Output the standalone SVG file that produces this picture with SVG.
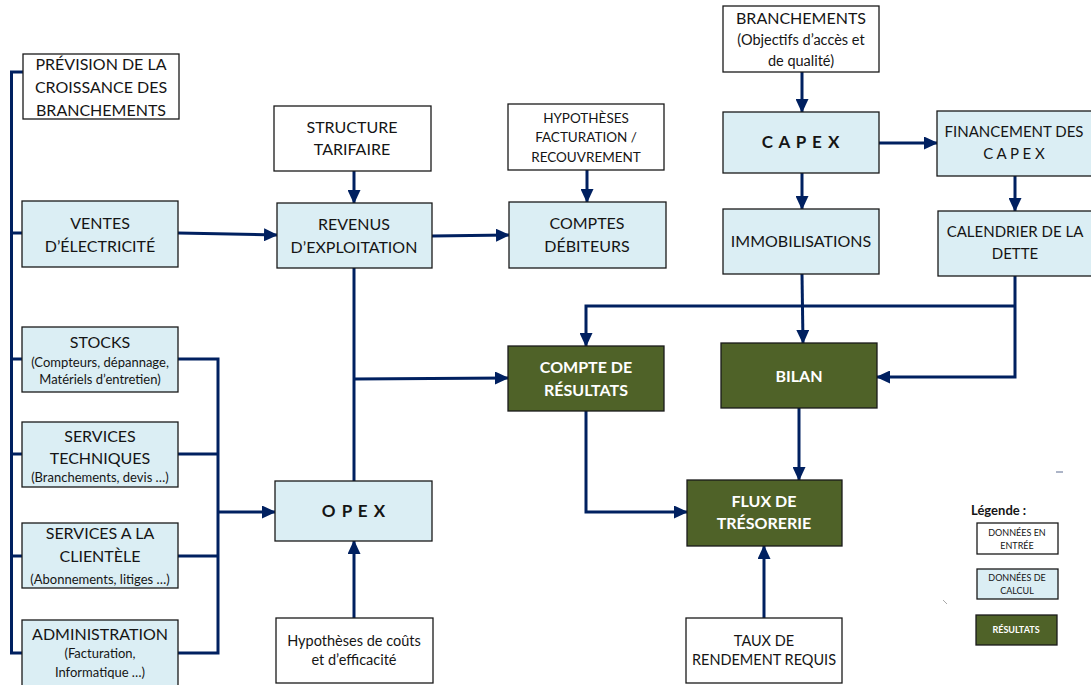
<svg xmlns="http://www.w3.org/2000/svg" width="1091" height="685" viewBox="0 0 1091 685">
<style>
.n{stroke:#1a1a1a;stroke-width:1.3}
.in{fill:#ffffff}
.calc{fill:#DBEEF4}
.res{fill:#4F6228}
.t{font-family:Lato,"Liberation Sans",sans-serif;font-size:16px;fill:#151515;text-anchor:middle}
.s{font-size:13px}
.m{font-size:14.5px}
.h{font-size:13.5px}
.r{font-size:15px}
.b{font-weight:bold;font-size:17px;letter-spacing:1px}
.w{fill:#ffffff;font-weight:bold}
.c{fill:none;stroke:#002060;stroke-width:3}
.lg{font-size:9px}
.lt{text-anchor:start;font-size:13px;font-weight:bold}
</style>
<defs>
<marker id="ah" viewBox="0 0 14 13" markerWidth="14" markerHeight="13" refX="13" refY="6.5" orient="auto" markerUnits="userSpaceOnUse">
<path d="M0,0 L14,6.5 L0,13 z" fill="#002060"/>
</marker>
</defs>
<rect width="1091" height="685" fill="#ffffff"/>

<g id="connectors">
<polyline class="c" points="23,72 11.5,72 11.5,653 22,653"/>
<line class="c" x1="11.5" y1="233" x2="22" y2="233"/>
<line class="c" x1="11.5" y1="359" x2="22" y2="359"/>
<line class="c" x1="11.5" y1="454" x2="22" y2="454"/>
<line class="c" x1="11.5" y1="556" x2="22" y2="556"/>
<line class="c" x1="178" y1="233" x2="277" y2="235" marker-end="url(#ah)"/>
<polyline class="c" points="178,359 218,359 218,653 178,653"/>
<line class="c" x1="178" y1="454" x2="218" y2="454"/>
<line class="c" x1="178" y1="556" x2="218" y2="556"/>
<line class="c" x1="218" y1="512" x2="275" y2="512" marker-end="url(#ah)"/>
<line class="c" x1="354" y1="171" x2="354" y2="203" marker-end="url(#ah)"/>
<line class="c" x1="432" y1="236" x2="509" y2="235" marker-end="url(#ah)"/>
<line class="c" x1="587" y1="170" x2="587" y2="202" marker-end="url(#ah)"/>
<line class="c" x1="354" y1="268" x2="354" y2="481"/>
<line class="c" x1="354" y1="379" x2="508" y2="378" marker-end="url(#ah)"/>
<line class="c" x1="354" y1="618" x2="354" y2="541" marker-end="url(#ah)"/>
<line class="c" x1="802" y1="72" x2="802" y2="112" marker-end="url(#ah)"/>
<line class="c" x1="879" y1="143" x2="937" y2="143" marker-end="url(#ah)"/>
<line class="c" x1="802" y1="173" x2="802" y2="209" marker-end="url(#ah)"/>
<line class="c" x1="1015" y1="176" x2="1015" y2="211" marker-end="url(#ah)"/>
<line class="c" x1="802" y1="274" x2="803" y2="343" marker-end="url(#ah)"/>
<polyline class="c" points="1015,276 1015,377 877,377" marker-end="url(#ah)"/>
<polyline class="c" points="1015,306 586,306 586,346" marker-end="url(#ah)"/>
<polyline class="c" points="586,411 586,512 687,512" marker-end="url(#ah)"/>
<line class="c" x1="799" y1="408" x2="799" y2="480" marker-end="url(#ah)"/>
<line class="c" x1="764" y1="618" x2="764" y2="546" marker-end="url(#ah)"/>
</g>

<g id="prevision">
<rect class="n in" x="23" y="54" width="156" height="65"/>
<text class="t" x="101" y="70">PRÉVISION DE LA</text>
<text class="t" x="101" y="93">CROISSANCE DES</text>
<text class="t" x="101" y="116">BRANCHEMENTS</text>
</g>
<g id="ventes">
<rect class="n calc" x="22" y="201" width="156" height="66"/>
<text class="t" x="100" y="229">VENTES</text>
<text class="t" x="100" y="252">D’ÉLECTRICITÉ</text>
</g>
<g id="stocks">
<rect class="n calc" x="22" y="327" width="156" height="65"/>
<text class="t" x="100" y="348">STOCKS</text>
<text class="t s" x="100" y="367">(Compteurs, dépannage,</text>
<text class="t s" x="100" y="384">Matériels d’entretien)</text>
</g>
<g id="services-techniques">
<rect class="n calc" x="22" y="422" width="156" height="65"/>
<text class="t" x="100" y="442">SERVICES</text>
<text class="t" x="100" y="464">TECHNIQUES</text>
<text class="t s" x="100" y="482">(Branchements, devis …)</text>
</g>
<g id="services-clientele">
<rect class="n calc" x="22" y="523" width="156" height="65"/>
<text class="t" x="100" y="539">SERVICES A LA</text>
<text class="t" x="100" y="562">CLIENTÈLE</text>
<text class="t s" x="100" y="584">(Abonnements, litiges …)</text>
</g>
<g id="administration">
<rect class="n calc" x="22" y="620" width="156" height="66"/>
<text class="t" x="100" y="640">ADMINISTRATION</text>
<text class="t s" x="100" y="658">(Facturation,</text>
<text class="t s" x="100" y="677">Informatique …)</text>
</g>
<g id="structure">
<rect class="n in" x="274" y="106" width="157" height="65"/>
<text class="t" x="352" y="133">STRUCTURE</text>
<text class="t" x="352" y="155">TARIFAIRE</text>
</g>
<g id="revenus">
<rect class="n calc" x="277" y="203" width="155" height="65"/>
<text class="t" x="354" y="230">REVENUS</text>
<text class="t" x="354" y="253">D’EXPLOITATION</text>
</g>
<g id="hypotheses-facturation">
<rect class="n in" x="508" y="104" width="156" height="66"/>
<text class="t h" x="586" y="123">HYPOTHÈSES</text>
<text class="t h" x="586" y="142">FACTURATION /</text>
<text class="t h" x="586" y="162">RECOUVREMENT</text>
</g>
<g id="comptes-debiteurs">
<rect class="n calc" x="509" y="202" width="157" height="66"/>
<text class="t" x="587" y="229">COMPTES</text>
<text class="t" x="587" y="252">DÉBITEURS</text>
</g>
<g id="opex">
<rect class="n calc" x="275" y="481" width="157" height="60"/>
<text class="t b" x="354" y="517">O P E X</text>
</g>
<g id="hypotheses-couts">
<rect class="n in" x="276" y="618" width="157" height="65"/>
<text class="t m" x="354" y="646">Hypothèses de coûts</text>
<text class="t m" x="354" y="665">et d’efficacité</text>
</g>
<g id="branchements">
<rect class="n in" x="723" y="6" width="156" height="66"/>
<text class="t" x="801" y="24">BRANCHEMENTS</text>
<text class="t m" x="801" y="45">(Objectifs d’accès et</text>
<text class="t m" x="801" y="66">de qualité)</text>
</g>
<g id="capex">
<rect class="n calc" x="723" y="112" width="156" height="61"/>
<text class="t b" x="801" y="148">C A P E X</text>
</g>
<g id="financement">
<rect class="n calc" x="937" y="111" width="156" height="65"/>
<text class="t r" x="1014" y="137">FINANCEMENT DES</text>
<text class="t r" x="1014" y="159">C A P E X</text>
</g>
<g id="immobilisations">
<rect class="n calc" x="723" y="209" width="156" height="65"/>
<text class="t" x="801" y="247">IMMOBILISATIONS</text>
</g>
<g id="calendrier">
<rect class="n calc" x="938" y="211" width="155" height="65"/>
<text class="t r" x="1015" y="237">CALENDRIER DE LA</text>
<text class="t r" x="1015" y="259">DETTE</text>
</g>
<g id="compte-resultats">
<rect class="n res" x="508" y="346" width="156" height="65"/>
<text class="t w" x="586" y="373">COMPTE DE</text>
<text class="t w" x="586" y="396">RÉSULTATS</text>
</g>
<g id="bilan">
<rect class="n res" x="721" y="343" width="156" height="65"/>
<text class="t w" x="799" y="382">BILAN</text>
</g>
<g id="flux">
<rect class="n res" x="687" y="480" width="155" height="66"/>
<text class="t w" x="764" y="507">FLUX DE</text>
<text class="t w" x="764" y="529">TRÉSORERIE</text>
</g>
<g id="taux">
<rect class="n in" x="686" y="618" width="156" height="65"/>
<text class="t m" x="764" y="646">TAUX DE</text>
<text class="t m" x="764" y="665">RENDEMENT REQUIS</text>
</g>

<g id="legende">
<text class="t lt" x="971" y="515">Légende :</text>
<rect class="n in" x="977" y="523" width="81" height="31"/>
<text class="t lg" x="1017" y="536">DONNÉES EN</text>
<text class="t lg" x="1017" y="549">ENTRÉE</text>
<rect class="n calc" x="977" y="569" width="81" height="30"/>
<text class="t lg" x="1017" y="581">DONNÉES DE</text>
<text class="t lg" x="1017" y="594">CALCUL</text>
<rect class="n res" x="976" y="615" width="81" height="30"/>
<text class="t lg w" x="1016" y="633">RÉSULTATS</text>
</g>
<line x1="1056" y1="472" x2="1063" y2="472" stroke="#5a6a90" stroke-width="1"/>
<line x1="943" y1="600" x2="947" y2="604" stroke="#aaaaaa" stroke-width="1"/>
</svg>
